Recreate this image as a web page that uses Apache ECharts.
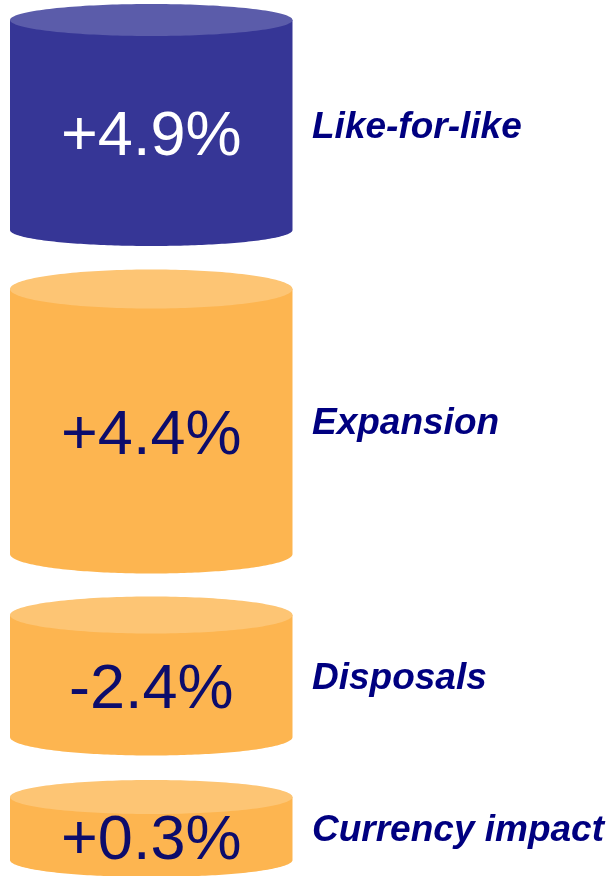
<!DOCTYPE html>
<html>
<head>
<meta charset="utf-8">
<script src="https://cdn.jsdelivr.net/npm/echarts@6/dist/echarts.min.js"></script>
<style>
  html, body { margin: 0; padding: 0; background: #ffffff; }
  #chart { width: 610px; height: 876px; }
</style>
</head>
<body>
<div id="chart"></div>
<script>
// Sales growth broken down by driver, one cylinder per component
const categories = ['Like-for-like', 'Expansion', 'Disposals', 'Currency impact'];
const changes = [4.9, 4.4, -2.4, 0.3];
// Extent of each cylinder on the vertical scale (rim centre to base centre)
const spanStart = [20, 289, 615, 797];
const spanEnd = [230, 554, 737, 860];

// ---- layout and styling ----
const CYL_LEFT = 10;
const CYL_RIGHT = 292.5;
const RIM_DEPTH = [16, 19.5, 18.5, 17];
const LABEL_X = 312;
const VALUE_SHIFT = 5;     // optical nudge for the big percentage text
const LABEL_SHIFT = 2.5;   // optical nudge for the driver names
const PALETTE = {
  highlight: { body: '#363696', rim: '#5b5caa', text: '#ffffff' },
  normal: { body: '#fdb550', rim: '#fdc574', text: '#0c0c6c' }
};
const LABEL_COLOR = '#000080';
const FONT_FAMILY = '"Liberation Sans", Arial, Helvetica, sans-serif';

function formatChange(v) {
  return (v > 0 ? '+' : '') + v.toFixed(1) + '%';
}

function ellipsePoints(cx, cy, rx, ry, a0, a1, n) {
  const pts = [];
  for (let k = 0; k <= n; k++) {
    const a = a0 + (a1 - a0) * k / n;
    pts.push([cx + rx * Math.cos(a), cy + ry * Math.sin(a)]);
  }
  return pts;
}

function renderItem(params, api) {
  const i = params.dataIndex;
  const p0 = api.coord([CYL_LEFT, api.value(0)]);
  const p1 = api.coord([CYL_RIGHT, api.value(1)]);
  const left = p0[0], right = p1[0];
  const yt = p0[1], yb = p1[1];
  const cx = (left + right) / 2;
  const rx = (right - left) / 2;
  const ry = RIM_DEPTH[i];
  const pal = i === 0 ? PALETTE.highlight : PALETTE.normal;

  // straight sides plus the front half of the base
  const bodyPts = [[left, yt]]
    .concat(ellipsePoints(cx, yb, rx, ry, Math.PI, 0, 120))
    .concat([[right, yt]]);
  const rimPts = ellipsePoints(cx, yt, rx, ry, 0, Math.PI * 2, 180);

  return {
    type: 'group',
    children: [
      { type: 'polygon', shape: { points: bodyPts }, style: { fill: pal.body } },
      { type: 'polygon', shape: { points: rimPts }, style: { fill: pal.rim } },
      {
        type: 'text',
        style: {
          text: formatChange(api.value(2)),
          x: cx,
          y: (yt + ry + yb) / 2 + VALUE_SHIFT,
          align: 'center',
          verticalAlign: 'middle',
          fill: pal.text,
          fontSize: 63,
          fontFamily: FONT_FAMILY
        }
      },
      {
        type: 'text',
        style: {
          text: categories[i],
          x: LABEL_X,
          y: (yt + yb) / 2 + LABEL_SHIFT,
          align: 'left',
          verticalAlign: 'middle',
          fill: LABEL_COLOR,
          fontSize: 37,
          fontWeight: 'bold',
          fontStyle: 'italic',
          fontFamily: FONT_FAMILY
        }
      }
    ]
  };
}

const chart = echarts.init(document.getElementById('chart'), null, { renderer: 'canvas' });
chart.setOption({
  animation: false,
  backgroundColor: '#ffffff',
  grid: { left: 0, right: 0, top: 0, bottom: 0 },
  xAxis: { type: 'value', min: 0, max: 610, show: false },
  yAxis: { type: 'value', min: 0, max: 876, inverse: true, show: false },
  series: [{
    type: 'custom',
    clip: false,
    renderItem: renderItem,
    data: categories.map((c, i) => [spanStart[i], spanEnd[i], changes[i]])
  }]
});
</script>
</body>
</html>
